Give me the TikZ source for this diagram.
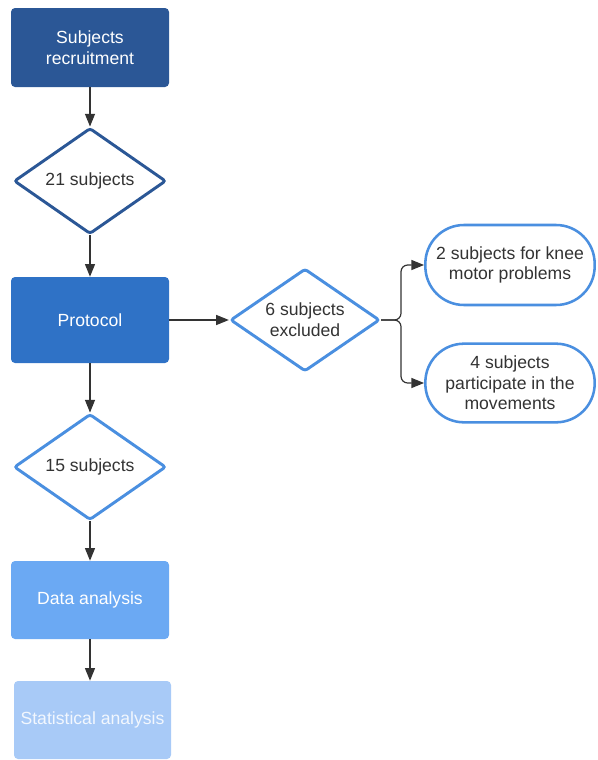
\documentclass[tikz,border=0pt]{standalone}
\usepackage{fontspec}
\setmainfont{Liberation Sans}
\usetikzlibrary{shapes.geometric,arrows.meta}

\definecolor{navy}{HTML}{2B5796}
\definecolor{midblue}{HTML}{2F72C6}
\definecolor{softblue}{HTML}{6BA9F3}
\definecolor{paleblue}{HTML}{A8CAF7}
\definecolor{rimblue}{HTML}{4A8FE0}
\definecolor{inkgray}{HTML}{333333}

\tikzset{
  every node/.append style={font=\fontsize{13.2}{15.5}\selectfont, align=center},
  procbox/.style={rectangle, rounded corners=3pt, minimum width=118.5pt, text=white},
  countbox/.style={diamond, draw=rimblue, fill=white, line width=2.2pt, rounded corners=2pt,
    shape aspect=1.45, inner sep=0pt, text=inkgray, minimum width=114pt, minimum height=79.5pt},
  endbox/.style={rectangle, rounded corners=29pt, draw=rimblue, fill=white, line width=1.9pt,
    minimum width=127pt, minimum height=59pt, text=inkgray},
  arrow/.style={draw=inkgray, line width=0.9pt, -{Triangle[length=9.5pt,width=7.5pt]}}
}

\begin{document}
\begin{tikzpicture}[x=0.75pt, y=-0.75pt]
\useasboundingbox (0,0) rectangle (598,760);

% main column
\node[procbox, fill=navy, minimum height=59.25pt] (recruit) at (90,47.5) {Subjects\\recruitment};
\node[countbox, draw=navy] (n21) at (90,181) {21 subjects};
\node[procbox, fill=midblue, minimum height=64.5pt] (protocol) at (90,320) {Protocol};
\node[countbox] (n15) at (90,467) {15 subjects};
\node[procbox, fill=softblue, minimum height=58.5pt] (data) at (90,600) {Data analysis};
\node[procbox, fill=paleblue, minimum height=58.5pt, minimum width=117.75pt, text=white!85!paleblue] (stats) at (92.5,720) {Statistical analysis};

% exclusions
\node[countbox, minimum width=112pt, minimum height=77pt] (excl) at (305,320) {6 subjects\\excluded};
\coordinate (split) at (401,320);
\node[endbox, minimum height=60pt] (knee) at (510,265) {2 subjects for knee\\motor problems};
\node[endbox] (moves) at (510,383) {4 subjects\\participate in the\\movements};

\draw[arrow] (recruit) -- (n21);
\draw[arrow] (n21) -- (protocol);
\draw[arrow] (protocol) -- (n15);
\draw[arrow] (n15) -- (data);
\draw[arrow] (data.south) -- (data.south |- stats.north);
\draw[arrow] (protocol) -- (excl);

\draw[arrow, rounded corners=5pt] (excl.east) -- (split) |- (knee.west);
\draw[arrow, rounded corners=5pt] (excl.east) -- (split) |- (moves.west);

\end{tikzpicture}
\end{document}
